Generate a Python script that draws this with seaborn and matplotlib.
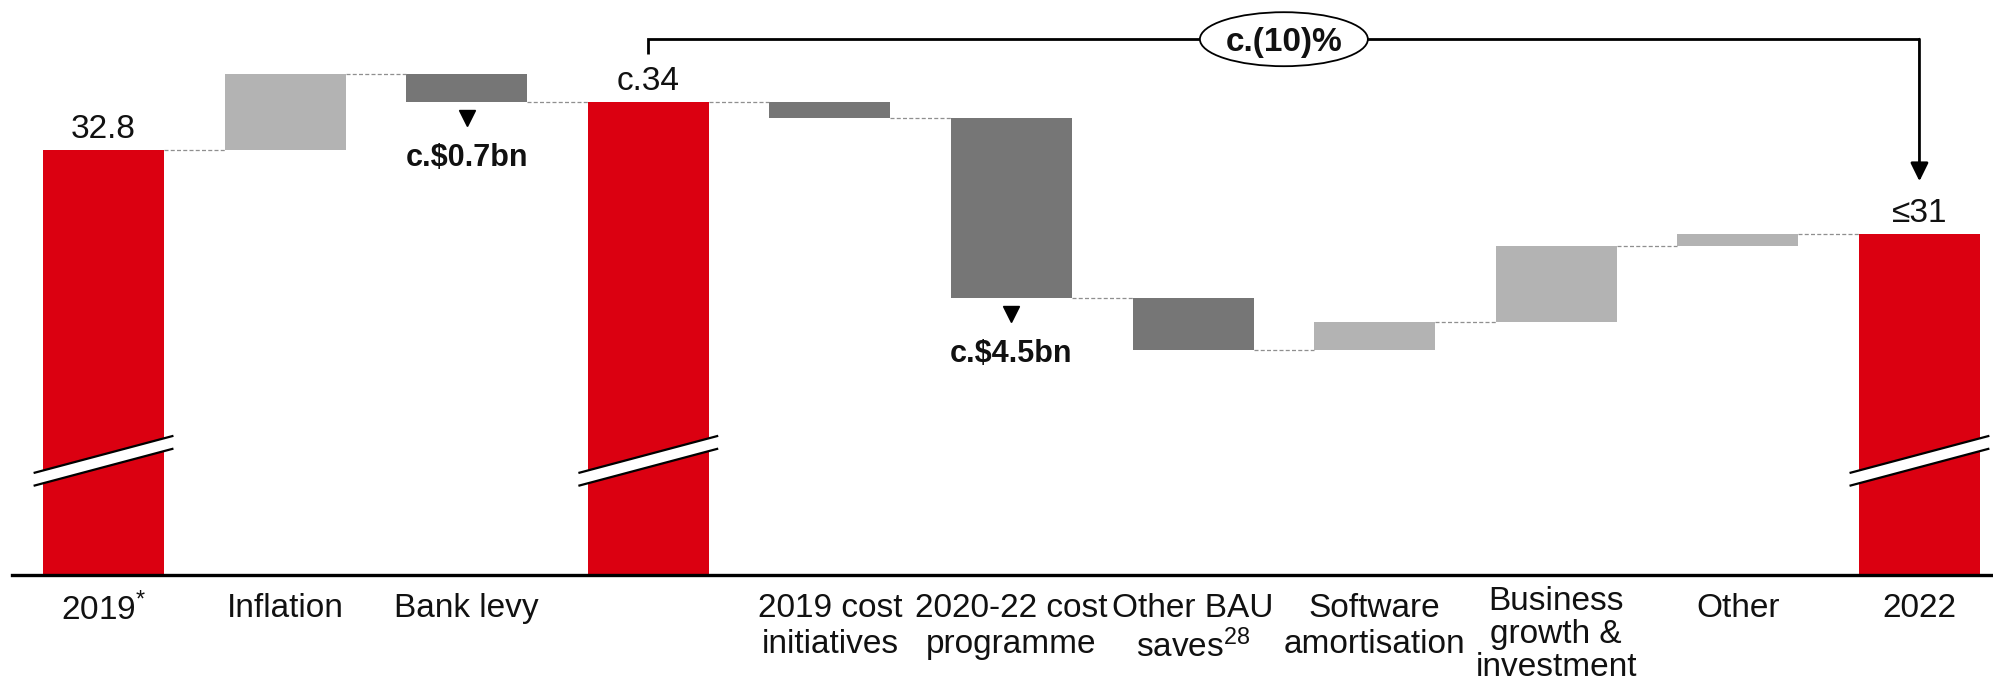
import numpy as np
import pandas as pd
import matplotlib
matplotlib.use("Agg")
import matplotlib.pyplot as plt
import matplotlib.transforms as mtransforms
from matplotlib.patches import Ellipse, Polygon
import seaborn as sns

# ---------------------------------------------------------------- data
steps = ["2019", "Inflation", "Bank levy", "2020 base", "2019 cost initiatives",
         "2020-22 cost programme", "Other BAU saves", "Software amortisation",
         "Business growth & investment", "Other", "2022"]
tick_labels = ["2019$^{*}$", "Inflation", "Bank levy", "", "2019 cost\ninitiatives",
               "2020-22 cost\nprogramme", "Other BAU\nsaves$^{28}$", "Software\namortisation",
               "Business\ngrowth &\ninvestment", "Other", "2022"]
start_value = 32.8
# NaN marks a running-total bar, numbers are the step changes ($bn)
step_changes = [np.nan, 1.9, -0.7, np.nan, -0.4, -4.5, -1.3, 0.7, 1.9, 0.3, np.nan]
total_labels = ["32.8", "c.34", "≤31"]
callout_labels = {2: "c.$0.7bn", 5: "c.$4.5bn"}
bracket_label = "c.(10)%"

# ---------------------------------------------------------------- style
RED = "#DB0011"
UP = "#B3B3B3"
DOWN = "#767676"
BAR_W = 0.666

sns.set_style("white")
plt.rcParams["font.family"] = ["Liberation Sans", "DejaVu Sans"]
plt.rcParams["mathtext.fontset"] = "custom"
plt.rcParams["mathtext.rm"] = "Liberation Sans"
plt.rcParams["mathtext.it"] = "Liberation Sans:italic"
plt.rcParams["mathtext.bf"] = "Liberation Sans:bold"

# ---------------------------------------------------------------- waterfall geometry
bottoms, tops, colors, levels = [], [], [], []
level = start_value
for i, ch in enumerate(step_changes):
    if np.isnan(ch):
        bottoms.append(0.0)
        tops.append(level)
        colors.append(RED)
    else:
        new = level + ch
        bottoms.append(min(level, new))
        tops.append(max(level, new))
        colors.append(UP if ch > 0 else DOWN)
        level = new
    levels.append(level)
bottoms = np.array(bottoms)
tops = np.array(tops)
total_pos = [i for i, ch in enumerate(step_changes) if np.isnan(ch)]

df = pd.DataFrame({"step": steps, "height": tops - bottoms})

fig = plt.figure(figsize=(19.93, 6.81), dpi=100)
fig.patch.set_facecolor("white")
ax = fig.add_axes([12 / 1993, 106 / 681, 1 - 12 / 1993, 575 / 681])

sns.barplot(data=df, x="step", y="height", order=steps, bottom=bottoms,
            color=RED, saturation=1, width=BAR_W, errorbar=None, ax=ax)
for patch, c in zip(ax.patches, colors):
    patch.set_facecolor(c)
    patch.set_edgecolor("none")
    patch.set_linewidth(0)

ax.set_xlim(-0.504, 10.405)
ax.set_ylim(22.175, 36.55)

# dashed connectors between consecutive bars
for i in range(len(steps) - 1):
    ax.plot([i + BAR_W / 2, i + 1 - BAR_W / 2], [levels[i], levels[i]],
            color="#8f8f8f", lw=0.9, linestyle=(0, (3.2, 1.8)), zorder=1)

# axis breaks on the running-total bars
BREAK_AT, BREAK_RISE, BREAK_GAP, BREAK_HALF = 25.03, 0.93, 0.32, 0.385
for i in total_pos:
    xl, xr = i - BREAK_HALF, i + BREAK_HALF
    lo_l = BREAK_AT - BREAK_RISE / 2 - BREAK_GAP / 2
    lo_r = BREAK_AT + BREAK_RISE / 2 - BREAK_GAP / 2
    band = Polygon([(xl, lo_l), (xr, lo_r), (xr, lo_r + BREAK_GAP), (xl, lo_l + BREAK_GAP)],
                   closed=True, facecolor="white", edgecolor="none", zorder=4)
    ax.add_patch(band)
    for off in (0, BREAK_GAP):
        ax.plot([xl, xr], [lo_l + off, lo_r + off], color="black", lw=1.6,
                solid_capstyle="butt", zorder=5)

# value labels on the totals
for i, lab in zip(total_pos, total_labels):
    ax.annotate(lab, (i, tops[i]), xytext=(0, 9.0), textcoords="offset points",
                ha="center", va="baseline", fontsize=24, color="#111111")

# call-outs under the decreasing programme bars
for i, lab in callout_labels.items():
    tri = mtransforms.offset_copy(ax.transData, fig=fig, y=-11.5, units="points")
    ax.plot([i], [bottoms[i]], marker="v", ms=12, color="black", transform=tri,
            linestyle="none")
    ax.annotate(lab, (i, bottoms[i]), xytext=(0, -46), textcoords="offset points",
                ha="center", va="baseline", fontsize=22, fontweight="bold",
                color="#111111")

# bracket from the 2020 base to 2022 with the percentage bubble
left_i, right_i = total_pos[1], total_pos[2]
BRACKET_Y = 35.57
ax.plot([left_i, left_i, right_i], [BRACKET_Y - 0.37, BRACKET_Y, BRACKET_Y],
        color="black", lw=2.0, solid_joinstyle="miter", solid_capstyle="butt", zorder=3)
ax.annotate("", xy=(right_i, tops[right_i]), xytext=(right_i, BRACKET_Y),
            arrowprops=dict(arrowstyle="-|>,head_length=0.55,head_width=0.27",
                            mutation_scale=20, lw=2.0, color="black",
                            shrinkA=0, shrinkB=38), zorder=3)
mid = (left_i + right_i) / 2
ax.add_patch(Ellipse((mid, BRACKET_Y), width=0.925, height=1.35, facecolor="white",
                     edgecolor="black", lw=1.3, zorder=6))
ax.text(mid, BRACKET_Y, bracket_label, ha="center", va="center_baseline",
        fontsize=24, fontweight="bold", color="#111111", zorder=7)

# axes cosmetics
ax.set_xticks(range(len(steps)))
ax.set_xticklabels(tick_labels, fontsize=24, linespacing=1.2, color="#111111")
ax.tick_params(axis="x", length=0, pad=13)
# the three-line label sits a little higher and tighter so it stays on the canvas
tall = ax.get_xticklabels()[8]
tall.set_linespacing(1.08)
tall.set_transform(tall.get_transform()
                   + mtransforms.ScaledTranslation(0, 5 / 72, fig.dpi_scale_trans))
ax.set_yticks([])
ax.set_xlabel("")
ax.set_ylabel("")
for side in ("top", "left", "right"):
    ax.spines[side].set_visible(False)
ax.spines["bottom"].set_color("black")
ax.spines["bottom"].set_linewidth(2.4)
ax.set_facecolor("white")

fig.savefig("out.png", dpi=100, facecolor="white")
